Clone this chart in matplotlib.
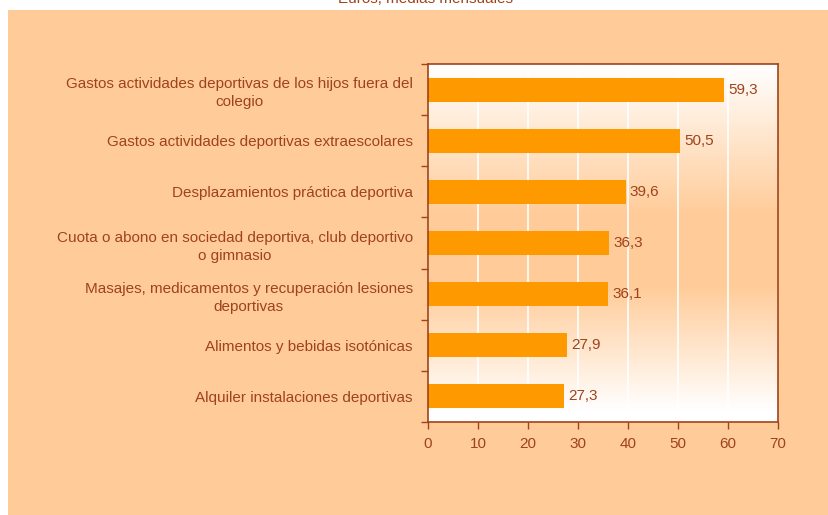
import matplotlib.pyplot as plt
import numpy as np
from matplotlib.colors import LinearSegmentedColormap

categorias = [
    "Gastos actividades deportivas de los hijos fuera del\ncolegio",
    "Gastos actividades deportivas extraescolares",
    "Desplazamientos práctica deportiva",
    "Cuota o abono en sociedad deportiva, club deportivo\no gimnasio",
    "Masajes, medicamentos y recuperación lesiones\ndeportivas",
    "Alimentos y bebidas isotónicas",
    "Alquiler instalaciones deportivas",
]
valores = [59.3, 50.5, 39.6, 36.3, 36.1, 27.9, 27.3]
etiquetas = ["59,3", "50,5", "39,6", "36,3", "36,1", "27,9", "27,3"]
xticks = [0, 10, 20, 30, 40, 50, 60, 70]
titulo = "Euros, medias mensuales"

peach = "#FFCC99"
naranja = "#FF9900"
marron = "#A0421A"

plt.rcParams['font.family'] = ['Liberation Sans', 'DejaVu Sans']

fig = plt.figure(figsize=(8.29, 5.15), dpi=100)
fig.patch.set_facecolor("white")
# peach panel (white strip on the left and top)
panel = plt.Rectangle((8 / 829, 0), 1, 1 - 10 / 515, transform=fig.transFigure,
                      facecolor=peach, edgecolor="none", zorder=-10)
fig.add_artist(panel)
fig.text(425 / 829, 1 + 1 / 515, titulo, ha="center", va="center", fontsize=11, color=marron)

ax = fig.add_axes([428 / 829, 1 - 422 / 515, 350 / 829, 358 / 515])

# vertical gradient: white -> peach -> white
t = np.linspace(0, 1, 300)
prof = np.interp(t, [0, 0.42, 0.62, 0.97, 1], [0, 1, 1, 0, 0])
cmap = LinearSegmentedColormap.from_list("g", ["white", peach])
ax.imshow(prof[:, None], aspect="auto", cmap=cmap, extent=[0, 70, 6.5, -0.5],
          zorder=0, vmin=0, vmax=1)

y = np.arange(len(categorias))
ax.barh(y, valores, height=0.47, color=naranja, zorder=3)
for yi, v, lab in zip(y, valores, etiquetas):
    ax.text(v + 0.7, yi, lab, va="center", ha="left", fontsize=11, color=marron, zorder=4)

ax.set_xlim(0, 70)
ax.set_ylim(6.5, -0.5)
ax.set_xticks(xticks)
ax.set_xticklabels([str(v) for v in xticks])
ax.set_yticks(y)
ax.set_yticklabels(categorias, linespacing=1.4)
for lab in ax.get_yticklabels():
    lab.set_multialignment("center")
ax.set_yticks(np.arange(-0.5, 7, 1), minor=True)
ax.tick_params(axis="y", which="major", length=0, pad=11, labelsize=11, labelcolor=marron)
ax.tick_params(axis="y", which="minor", length=5, color=marron, width=1)
ax.tick_params(axis="x", length=5, color=marron, width=1, pad=6, labelsize=11, labelcolor=marron)
ax.grid(axis="x", color="white", linewidth=1.2, zorder=1)
ax.set_axisbelow(True)
for s in ax.spines.values():
    s.set_color(marron)
    s.set_linewidth(1.2)
    s.set_zorder(5)

fig.savefig("out.png", dpi=100, facecolor=fig.get_facecolor())
